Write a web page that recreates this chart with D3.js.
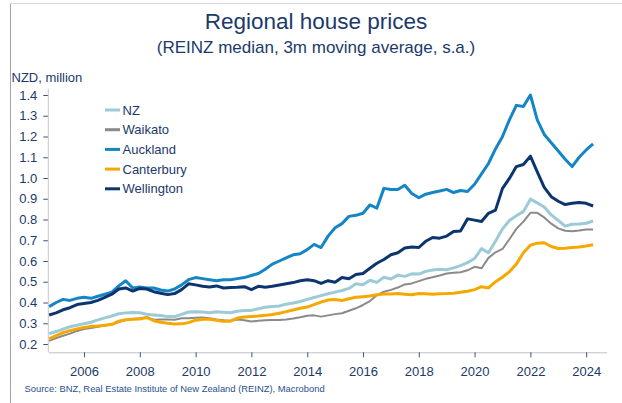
<!DOCTYPE html>
<html>
<head>
<meta charset="utf-8">
<script src="https://cdn.jsdelivr.net/npm/d3@7"></script>
<style>
  body { margin: 0; background: #fff; }
  svg { display: block; font-family: "Liberation Sans", Arial, sans-serif; }
</style>
</head>
<body>
<div id="chart"></div>
<script>
// quarterly readings, Oct 2004 - Apr 2024
var periods = [
  "2004-10",
  "2005-01","2005-04","2005-07","2005-10", "2006-01","2006-04","2006-07","2006-10",
  "2007-01","2007-04","2007-07","2007-10", "2008-01","2008-04","2008-07","2008-10",
  "2009-01","2009-04","2009-07","2009-10", "2010-01","2010-04","2010-07","2010-10",
  "2011-01","2011-04","2011-07","2011-10", "2012-01","2012-04","2012-07","2012-10",
  "2013-01","2013-04","2013-07","2013-10", "2014-01","2014-04","2014-07","2014-10",
  "2015-01","2015-04","2015-07","2015-10", "2016-01","2016-04","2016-07","2016-10",
  "2017-01","2017-04","2017-07","2017-10", "2018-01","2018-04","2018-07","2018-10",
  "2019-01","2019-04","2019-07","2019-10", "2020-01","2020-04","2020-07","2020-10",
  "2021-01","2021-04","2021-07","2021-10", "2022-01","2022-04","2022-07","2022-10",
  "2023-01","2023-04","2023-07","2023-10",
  "2024-01","2024-04"
];

var nz = [
  0.25,
  0.26, 0.272, 0.283, 0.29,   0.298, 0.305, 0.316, 0.326,
  0.335, 0.346, 0.35, 0.352,  0.351, 0.343, 0.34, 0.337,
  0.332, 0.332, 0.343, 0.354, 0.356, 0.354, 0.351, 0.355,
  0.353, 0.351, 0.358, 0.361, 0.362, 0.37, 0.377, 0.381,
  0.383, 0.392, 0.398, 0.405, 0.415, 0.424, 0.433, 0.442,
  0.45, 0.458, 0.468, 0.49,   0.485, 0.507, 0.497, 0.522,
  0.513, 0.532, 0.526, 0.538, 0.537, 0.55, 0.557, 0.56,
  0.558, 0.567, 0.578, 0.592, 0.612, 0.66, 0.64, 0.695,
  0.755, 0.795, 0.818, 0.838, 0.898, 0.88, 0.86, 0.822,
  0.795, 0.768, 0.777, 0.778,
  0.782, 0.793
];

var waikato = [
  0.215,
  0.228, 0.24, 0.25, 0.263,   0.272, 0.277, 0.283, 0.289,
  0.294, 0.306, 0.315, 0.321, 0.324, 0.329, 0.317, 0.318,
  0.318, 0.317, 0.324, 0.324, 0.327, 0.328, 0.324, 0.318,
  0.314, 0.312, 0.318, 0.314, 0.308, 0.312, 0.315, 0.316,
  0.316, 0.318, 0.323, 0.329, 0.336, 0.338, 0.332, 0.338,
  0.344, 0.348, 0.36, 0.372,  0.388, 0.407, 0.435, 0.452,
  0.461, 0.472, 0.487, 0.492, 0.503, 0.514, 0.522, 0.53,
  0.54, 0.543, 0.546, 0.555,  0.572, 0.565, 0.615, 0.642,
  0.658, 0.705, 0.755, 0.79,  0.832, 0.832, 0.81, 0.78,
  0.757, 0.746, 0.743, 0.747,
  0.752, 0.752
];

var auckland = [
  0.38,
  0.40, 0.415, 0.41, 0.42,    0.425, 0.42, 0.43, 0.44,
  0.45, 0.48, 0.505, 0.47,    0.475, 0.47, 0.47, 0.46,
  0.455, 0.465, 0.485, 0.51,  0.52, 0.515, 0.51, 0.505,
  0.51, 0.51, 0.515, 0.52,    0.53, 0.54, 0.56, 0.585,
  0.60, 0.615, 0.63, 0.635,   0.655, 0.68, 0.665, 0.72,
  0.76, 0.78, 0.815, 0.82,    0.83, 0.87, 0.855, 0.95,
  0.945, 0.945, 0.965, 0.925, 0.905, 0.922, 0.93, 0.937,
  0.945, 0.93, 0.94, 0.935,   0.97, 1.02, 1.07, 1.14,
  1.20, 1.28, 1.35, 1.345,    1.40, 1.28, 1.21, 1.17,
  1.13, 1.09, 1.055, 1.10,
  1.135, 1.165
];

var canterbury = [
  0.225,
  0.24, 0.255, 0.264, 0.273,  0.28, 0.285, 0.287, 0.29,
  0.295, 0.31, 0.317, 0.319,  0.32, 0.328, 0.312, 0.305,
  0.30, 0.296, 0.297, 0.303,  0.315, 0.319, 0.319, 0.314,
  0.31, 0.31, 0.325, 0.33,    0.333, 0.335, 0.338, 0.342,
  0.348, 0.356, 0.364, 0.372, 0.378, 0.39, 0.402, 0.412,
  0.414, 0.41, 0.418, 0.425,  0.428, 0.431, 0.437, 0.441,
  0.441, 0.443, 0.44, 0.437,  0.443, 0.442, 0.44, 0.442,
  0.443, 0.445, 0.449, 0.454, 0.462, 0.476, 0.47, 0.50,
  0.522, 0.548, 0.585, 0.64,  0.676, 0.686, 0.688, 0.67,
  0.66, 0.662, 0.665, 0.667,
  0.672, 0.678
];

var wellington = [
  0.34,
  0.35, 0.365, 0.375, 0.39,   0.395, 0.40, 0.41, 0.425,
  0.44, 0.465, 0.47, 0.455,   0.468, 0.465, 0.452, 0.445,
  0.438, 0.443, 0.462, 0.49,  0.485, 0.478, 0.475, 0.48,
  0.47, 0.472, 0.473, 0.476,  0.462, 0.478, 0.474, 0.478,
  0.484, 0.49, 0.496, 0.505,  0.51, 0.505, 0.492, 0.505,
  0.498, 0.52, 0.514, 0.535,  0.54, 0.565, 0.589, 0.607,
  0.63, 0.64, 0.663, 0.667,   0.665, 0.695, 0.713, 0.71,
  0.72, 0.742, 0.745, 0.803,  0.797, 0.79, 0.83, 0.845,
  0.95, 0.998, 1.055, 1.065,  1.105, 1.03, 0.955, 0.91,
  0.888, 0.872, 0.878, 0.882,
  0.878, 0.865
];

var seriesNames = ["NZ", "Waikato", "Auckland", "Canterbury", "Wellington"];
var seriesValues = [nz, waikato, auckland, canterbury, wellington];
var seriesColors = ["#9dcad7", "#8a8a8a", "#1485c5", "#f5a900", "#0c356f"];
var seriesWidths = [3, 2, 3, 3, 3];

var yearTicks = [2006, 2008, 2010, 2012, 2014, 2016, 2018, 2020, 2022, 2024];
var valueTicks = [0.2, 0.3, 0.4, 0.5, 0.6, 0.7, 0.8, 0.9, 1.0, 1.1, 1.2, 1.3, 1.4];

var width = 622, height = 403;
var navy = "#1b3a6b";

var svg = d3.select("#chart").append("svg")
  .attr("width", width)
  .attr("height", height);

// frame
svg.append("line").attr("x1", 10.5).attr("x2", 10.5).attr("y1", 3).attr("y2", height)
  .attr("stroke", "#a6a6a6").attr("stroke-width", 1);
svg.append("line").attr("x1", 10).attr("x2", width).attr("y1", 3.5).attr("y2", 3.5)
  .attr("stroke", "#d9d9d9").attr("stroke-width", 1);

// titles
svg.append("text").attr("x", 316).attr("y", 29).attr("text-anchor", "middle")
  .attr("fill", navy).style("font-size", "22.5px").text("Regional house prices");
svg.append("text").attr("x", 316).attr("y", 53).attr("text-anchor", "middle")
  .attr("fill", navy).style("font-size", "17px").text("(REINZ median, 3m moving average, s.a.)");
svg.append("text").attr("x", 11.5).attr("y", 82).attr("fill", navy)
  .style("font-size", "13px").text("NZD, million");

var parse = d3.timeParse("%Y-%m");
var dates = periods.map(parse);

var x = d3.scaleTime()
  .domain([new Date(2004, 8, 20), new Date(2024, 8, 26)])
  .range([48.3, 606.7]);
var y = d3.scaleLinear().domain([0.2, 1.4]).range([344, 95]);

// y axis
var yAxis = svg.append("g").attr("transform", "translate(48.3,0)")
  .call(d3.axisLeft(y).tickValues(valueTicks).tickFormat(d3.format(".1f"))
    .tickSize(5).tickPadding(6).tickSizeOuter(0));
yAxis.select(".domain").remove();
yAxis.append("line").attr("x1", 0).attr("x2", 0).attr("y1", y(1.43)).attr("y2", y(0.16))
  .attr("stroke", "#c8c8c8");

// x axis
var xAxis = svg.append("g").attr("transform", "translate(0," + y(0.16) + ")")
  .call(d3.axisBottom(x).tickValues(yearTicks.map(function (d) { return new Date(d, 0, 1); }))
    .tickFormat(d3.timeFormat("%Y")).tickSize(5).tickPadding(9).tickSizeOuter(0));
xAxis.select(".domain").attr("stroke", "#c0c0c0");

svg.selectAll(".tick line").attr("stroke", "#3d5478");
svg.selectAll(".tick text").attr("fill", navy).style("font-size", "13px")
  .style("font-family", "'Liberation Sans', Arial, sans-serif");

// lines
var line = d3.line()
  .x(function (d, i) { return x(dates[i]); })
  .y(function (d) { return y(d); });

svg.append("g").selectAll("path")
  .data(seriesValues)
  .enter()
    .append("path")
      .attr("d", line)
      .attr("fill", "none")
      .attr("stroke", function (d, i) { return seriesColors[i]; })
      .attr("stroke-width", function (d, i) { return seriesWidths[i]; })
      .attr("stroke-linejoin", "round");

// legend
var legend = svg.append("g").selectAll("g")
  .data(seriesNames)
  .enter()
    .append("g")
      .attr("transform", function (d, i) { return "translate(105," + (110 + i * 19.7) + ")"; });

legend.append("line")
  .attr("x1", 0).attr("x2", 15)
  .attr("stroke", function (d, i) { return seriesColors[i]; })
  .attr("stroke-width", 3);

legend.append("text")
  .attr("x", 17.5).attr("dy", "0.35em")
  .attr("fill", navy).style("font-size", "13px")
  .text(function (d) { return d; });

// source
svg.append("text").attr("x", 24.5).attr("y", 391.5)
  .attr("fill", "#2a4f8f").style("font-size", "9.4px")
  .text("Source: BNZ, Real Estate Institute of New Zealand (REINZ), Macrobond");
</script>
</body>
</html>
